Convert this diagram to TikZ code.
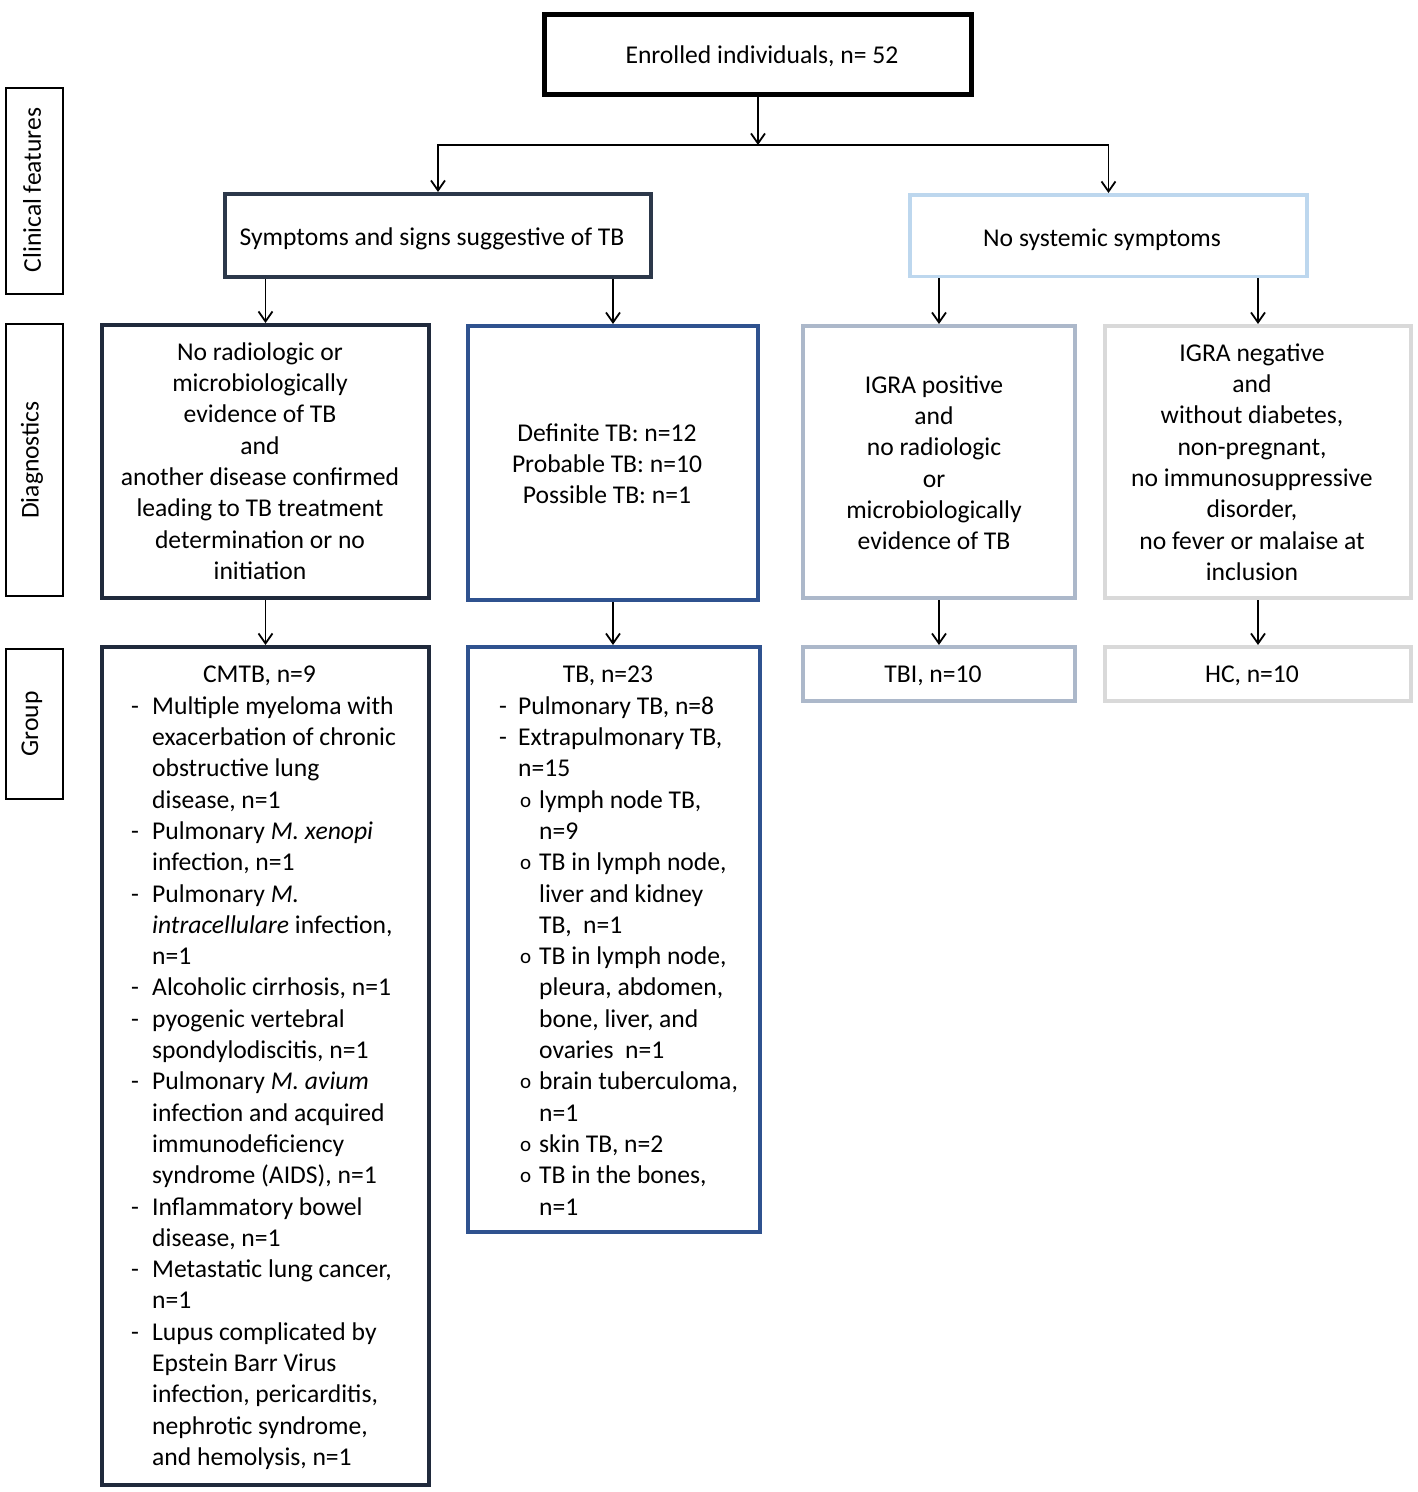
\documentclass[tikz,border=0pt]{standalone}
\usepackage{fontspec}
\setmainfont{Carlito}
\usetikzlibrary{arrows.meta}
\definecolor{cslate}{RGB}{44,56,74}
\definecolor{cnavy}{RGB}{32,42,60}
\definecolor{cblue}{RGB}{47,82,143}
\definecolor{clblue}{RGB}{189,215,238}
\definecolor{cgblue}{RGB}{172,184,202}
\definecolor{cgray}{RGB}{217,217,217}
\newcommand\mystrut{\rule{0pt}{24pt}}
\newcommand\cdsh{\makebox[21pt][l]{-}}
\newcommand\cind{\hspace*{21pt}}
\newcommand\tdsh{\makebox[19pt][l]{-}}
\newcommand\tind{\hspace*{19pt}}
\newcommand\tbul{\hspace*{21pt}\makebox[19pt][l]{\raisebox{1pt}{\fontsize{21}{21}\selectfont o}}}
\newcommand\tsub{\hspace*{40pt}}
\begin{document}
\begin{tikzpicture}[x=1pt,y=-1pt,
  every node/.style={font=\fontsize{25.6}{31.3}\selectfont},
  box/.style={draw, inner sep=0pt, line width=4pt},
  lbl/.style={draw, inner sep=0pt, line width=2pt, black},
  txt/.style={inner sep=0pt, align=center},
  ltxt/.style={inner sep=0pt, align=left, anchor=north west},
  arr/.style={line width=1.8pt, -{Straight Barb[length=10pt,width=14pt,line width=1.8pt]}}]
\useasboundingbox (0,0) rectangle (1417,1492);
\fill[white] (0,0) rectangle (1417,1492);

% side labels
\node[lbl, minimum width=57pt, minimum height=206pt] (lclin) at (34.5,191) {};
\node[lbl, minimum width=57pt, minimum height=272pt] (ldiag) at (34.5,460) {};
\node[lbl, minimum width=57pt, minimum height=150pt] (lgrp) at (34.5,724) {};
\node[txt, rotate=90] (lclint) at (32,190) {Clinical features};
\node[txt, rotate=90] (ldiagt) at (32,460) {Diagnostics};
\node[txt, rotate=90] (lgrpt) at (32,724) {Group};

% boxes
\node[box, line width=5pt, black, minimum width=427pt, minimum height=80pt] (enr) at (758,54.5) {};
\node[box, cslate, minimum width=426pt, minimum height=83pt] (sym) at (438,235.5) {};
\node[box, clblue, line width=3.5pt, minimum width=397pt, minimum height=81.5pt] (nosys) at (1108.5,235.5) {};
\node[box, cnavy, minimum width=327pt, minimum height=273pt] (norad) at (265.5,461.5) {};
\node[box, cblue, minimum width=290pt, minimum height=274pt] (defin) at (613,463) {};
\node[box, cgblue, minimum width=272pt, minimum height=272pt] (igpos) at (939,462) {};
\node[box, cgray, minimum width=306pt, minimum height=272pt] (igneg) at (1258,462) {};
\node[box, cnavy, minimum width=327pt, minimum height=838pt] (cmtb) at (265.5,1066) {};
\node[box, cblue, minimum width=292pt, minimum height=585pt] (tb) at (614,939.5) {};
\node[box, cgblue, minimum width=272pt, minimum height=54pt] (tbi) at (939,674) {};
\node[box, cgray, minimum width=306pt, minimum height=54pt] (hc) at (1258,674) {};

% texts
\node[txt, anchor=base] (enrt) at (762,63) {Enrolled individuals, n= 52};
\node[txt, anchor=base] (symt) at (432,245) {Symptoms and signs suggestive of TB};
\node[txt, anchor=base] (nosyst) at (1102,246) {No systemic symptoms};
\node[txt, anchor=north] (noradt) at (260,336) {\mystrut No radiologic or\\microbiologically\\evidence of TB\\and\\another disease confirmed\\leading to TB treatment\\determination or no\\initiation};
\node[txt, anchor=north] (defint) at (607,417) {\mystrut Definite TB: n=12\\Probable TB: n=10\\Possible TB: n=1};
\node[txt, anchor=north] (igpost) at (934,369) {\mystrut IGRA positive\\and\\no radiologic\\or\\microbiologically\\evidence of TB};
\node[txt, anchor=north] (ignegt) at (1252,337) {\mystrut IGRA negative\\and\\without diabetes,\\non-pregnant,\\no immunosuppressive\\disorder,\\no fever or malaise at\\inclusion};
\node[txt, anchor=base] (tbit) at (933,682) {TBI, n=10};
\node[txt, anchor=base] (hct) at (1252,682) {HC, n=10};

\node[txt, anchor=base] (cmtbt) at (259.5,682) {CMTB, n=9};
\node[ltxt] (cmtbl) at (131,690) {\mystrut\cdsh Multiple myeloma with\\
\cind exacerbation of chronic\\
\cind obstructive lung\\
\cind disease, n=1\\
\cdsh Pulmonary \textit{M. xenopi}\\
\cind infection, n=1\\
\cdsh Pulmonary \textit{M.}\\
\cind \textit{intracellulare} infection,\\
\cind n=1\\
\cdsh Alcoholic cirrhosis, n=1\\
\cdsh pyogenic vertebral\\
\cind spondylodiscitis, n=1\\
\cdsh Pulmonary \textit{M. avium}\\
\cind infection and acquired\\
\cind immunodeficiency\\
\cind syndrome (AIDS), n=1\\
\cdsh Inflammatory bowel\\
\cind disease, n=1\\
\cdsh Metastatic lung cancer,\\
\cind n=1\\
\cdsh Lupus complicated by\\
\cind Epstein Barr Virus\\
\cind infection, pericarditis,\\
\cind nephrotic syndrome,\\
\cind and hemolysis, n=1};

\node[txt, anchor=base] (tbt) at (608,682) {TB, n=23};
\node[ltxt] (tbl) at (499,690) {\mystrut\tdsh Pulmonary TB, n=8\\
\tdsh Extrapulmonary TB,\\
\tind n=15\\
\tbul lymph node TB,\\
\tsub n=9\\
\tbul TB in lymph node,\\
\tsub liver and kidney\\
\tsub TB,\ \ n=1\\
\tbul TB in lymph node,\\
\tsub pleura, abdomen,\\
\tsub bone, liver, and\\
\tsub ovaries\ \ n=1\\
\tbul brain tuberculoma,\\
\tsub n=1\\
\tbul skin TB, n=2\\
\tbul TB in the bones,\\
\tsub n=1};

% connectors
\coordinate (split) at (758,145);
\draw[arr] (enr.south) -- (split);
\draw[arr] (split) -| (sym.north);
\draw[arr] (split) -| (nosys.north);
\draw[arr] (sym.south -| norad.north) -- (norad.north);
\draw[arr] (sym.south -| defin.north) -- (defin.north);
\draw[arr] (nosys.south -| igpos.north) -- (igpos.north);
\draw[arr] (nosys.south -| igneg.north) -- (igneg.north);
\draw[arr] (norad.south) -- (cmtb.north);
\draw[arr] (defin.south) -- (defin.south |- tb.north);
\draw[arr] (igpos.south) -- (tbi.north);
\draw[arr] (igneg.south) -- (hc.north);
\end{tikzpicture}
\end{document}
